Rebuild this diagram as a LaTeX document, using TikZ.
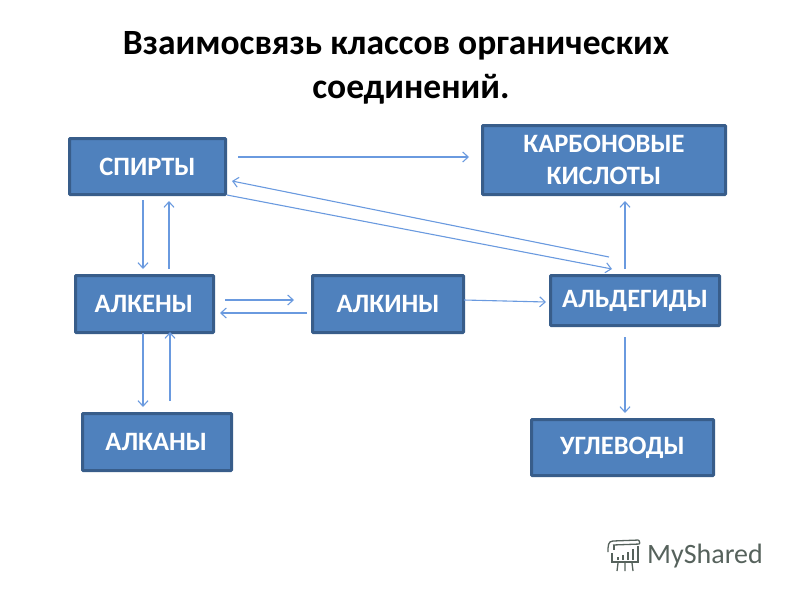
\documentclass[tikz,border=0pt]{standalone}
\usepackage{fontspec}
\setmainfont{Carlito}
\usetikzlibrary{arrows.meta}
\definecolor{boxfill}{HTML}{4F81BD}
\definecolor{boxline}{HTML}{385D8A}
\definecolor{arrowc}{HTML}{6A9ADF}
\definecolor{logoc}{HTML}{56625C}
\tikzset{
  x=1pt,y=-1pt,
  box/.style={draw=boxline,line width=3pt,rounded corners=0.8pt,fill=boxfill,text=white,font=\fontsize{26.5}{32}\selectfont\bfseries,align=center,inner sep=0pt,anchor=north west},
  link/.style={draw=arrowc,line width=1.1pt,-{Straight Barb[length=5.5pt,width=10pt,line width=1.1pt]}},
  ttl/.style={font=\fontsize{35.5}{38}\selectfont\bfseries,text=black,inner sep=0pt},
  logo/.style={draw=logoc,line width=1.3pt}
}
\begin{document}
\begin{tikzpicture}
\useasboundingbox (0,0) rectangle (800,600);
\node[ttl] (t1) at (396,46) {Взаимосвязь классов органических};
\node[ttl] (t2) at (411,89) {соединений.};
\node[box,minimum width=156pt,minimum height=56pt] (sp) at (68,137) {СПИРТЫ};
\node[box,minimum width=243pt,minimum height=69pt] (ka) at (481,124) {КАРБОНОВЫЕ\\КИСЛОТЫ};
\node[box,minimum width=138pt,minimum height=57pt] (ae) at (74,274) {\kern-1.5ptАЛКЕНЫ};
\node[box,minimum width=151pt,minimum height=57pt] (ai) at (311,274) {\raisebox{-1pt}{АЛКИНЫ}};
\node[box,minimum width=169pt,minimum height=50pt] (al) at (549,274) {\raisebox{-1.5pt}{АЛЬДЕГИДЫ}};
\node[box,minimum width=149pt,minimum height=57pt] (aa) at (81,412) {\kern-1.5ptАЛКАНЫ};
\node[box,minimum width=182pt,minimum height=56pt] (ug) at (530,418) {\raisebox{-2pt}{УГЛЕВОДЫ}};
\coordinate (a1) at (238,157); \coordinate (a2) at (469,157);
\coordinate (b1) at (609,257); \coordinate (b2) at (232,181);
\coordinate (c1) at (227,195); \coordinate (c2) at (612,269);
\coordinate (d1) at (143,200); \coordinate (d2) at (143,269);
\coordinate (e1) at (169,269); \coordinate (e2) at (169,201);
\coordinate (f1) at (225,300); \coordinate (f2) at (294,300);
\coordinate (g1) at (307,313); \coordinate (g2) at (220,313);
\coordinate (h1) at (464,300); \coordinate (h2) at (546,302);
\coordinate (i1) at (625,269); \coordinate (i2) at (625,201);
\coordinate (j1) at (625,337); \coordinate (j2) at (625,413);
\coordinate (k1) at (143,333); \coordinate (k2) at (143,407);
\coordinate (l1) at (170,401); \coordinate (l2) at (170,332);
\foreach \p/\q in {a1/a2,b1/b2,c1/c2,d1/d2,e1/e2,f1/f2,g1/g2,h1/h2,i1/i2,j1/j2,k1/k2,l1/l2}
  \draw[link] (\p) -- (\q);
% logo
\draw[logo,rounded corners=1pt] (613,541) -- (639,540) -- (640,544) -- (613,545);
\draw[logo] (613,541) .. controls (608,541) and (608,546) .. (608,552);
\draw[logo] (614,545) -- (614,550);
\draw[logo] (612,553) -- (612,562) -- (638,562) -- (638,546);
\draw[logo,line width=1.8pt] (618,560) -- (618,557) (623,560) -- (623,555) (628,560) -- (628,552) (633,560) -- (633,549);
\draw[logo] (618,563) -- (617,571) (625,563) -- (625,571) (632,563) -- (633,571);
\node[font=\fontsize{28}{30}\selectfont,text=logoc,inner sep=0pt,anchor=base west] (mys) at (647,563) {MyShared};
\end{tikzpicture}
\end{document}
